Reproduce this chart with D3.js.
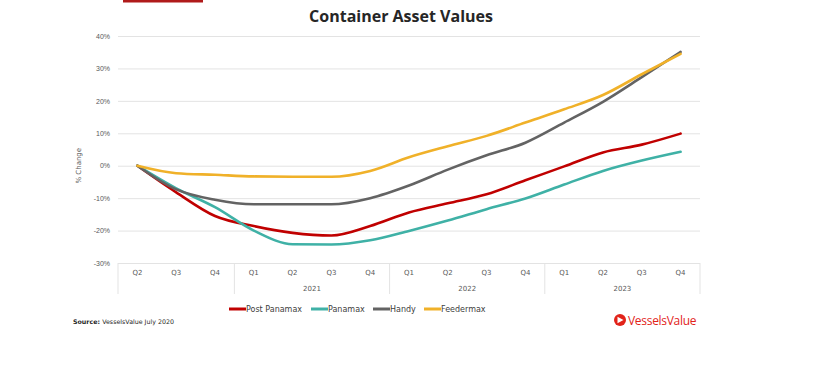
<!DOCTYPE html>
<html>
<head>
<meta charset="utf-8">
<script src="https://cdn.jsdelivr.net/npm/d3@7"></script>
<style>
  body { margin: 0; background: #fff; }
  svg { display: block; font-family: "DejaVu Sans", Verdana, sans-serif; }
  .tick text { fill: #595959; font-size: 7px; }
</style>
</head>
<body>
<div id="chart"></div>
<script>
// quarters along the x axis
const quarters = ['Q2', 'Q3', 'Q4', 'Q1', 'Q2', 'Q3', 'Q4', 'Q1', 'Q2', 'Q3', 'Q4', 'Q1', 'Q2', 'Q3', 'Q4'];
// year groups: label, first quarter index, index after last
const years = [
  { label: '', start: 0, end: 3 },
  { label: '2021', start: 3, end: 7 },
  { label: '2022', start: 7, end: 11 },
  { label: '2023', start: 11, end: 15 }
];
const yTicks = [-30, -20, -10, 0, 10, 20, 30, 40];

// % change series
const postPanamax = [0, -8.2, -15.5, -18.6, -20.7, -21.5, -18.6, -14.4, -11.6, -8.8, -4.5, -0.2, 4.1, 6.5, 9.9];
const panamax = [0, -7, -12.8, -20, -24.2, -24.3, -23, -20.1, -16.9, -13.4, -10.1, -5.8, -1.6, 1.6, 4.3];
const handy = [0, -7.3, -10.5, -11.9, -11.9, -11.9, -10, -6.1, -1.2, 3.2, 7.1, 13.3, 19.7, 27.3, 35.1];
const feedermax = [0, -2.3, -2.8, -3.3, -3.4, -3.4, -1.6, 2.6, 6, 9.2, 13.3, 17.4, 21.8, 28.2, 34.5];

const seriesNames = ['Post Panamax', 'Panamax', 'Handy', 'Feedermax'];
const seriesValues = [postPanamax, panamax, handy, feedermax];
const colors = ['#c00000', '#3fb1a6', '#636363', '#f0b129'];

const W = 817, H = 370;
const margin = { top: 36, right: 117, bottom: 107, left: 118 };
const width = W - margin.left - margin.right;
const height = H - margin.top - margin.bottom;

const svg = d3.select('#chart').append('svg')
  .attr('width', W)
  .attr('height', H);

// cropped red strip at the very top of the original picture
svg.append('rect')
  .attr('x', 123).attr('y', 0)
  .attr('width', 80).attr('height', 2.5)
  .attr('fill', '#b01a1a');

svg.append('text')
  .attr('x', 401).attr('y', 22)
  .attr('text-anchor', 'middle')
  .style('font-family', '"Open Sans", sans-serif')
  .style('font-weight', 'bold')
  .style('font-size', '16px')
  .attr('fill', '#262626')
  .text('Container Asset Values');

const chart = svg.append('g')
  .attr('transform', `translate(${margin.left},${margin.top})`);

const x = d3.scaleBand()
  .domain(d3.range(quarters.length))
  .range([0, width]);

const y = d3.scaleLinear()
  .domain([-30, 40])
  .range([height, 0]);

// y axis with gridlines
const yAxisG = chart.append('g')
  .call(d3.axisLeft(y)
    .tickValues(yTicks)
    .tickSize(-width)
    .tickPadding(8)
    .tickFormat(d => d + '%'));
yAxisG.select('.domain').remove();
yAxisG.selectAll('.tick line').attr('stroke', '#e3e3e3').attr('stroke-width', 1);
yAxisG.selectAll('.tick text').attr('x', -8).attr('text-anchor', 'end');

chart.append('text')
  .attr('transform', `translate(-37,${y(0)}) rotate(-90)`)
  .attr('text-anchor', 'middle')
  .style('font-size', '7px')
  .attr('fill', '#595959')
  .text('% Change');

// category axis: quarter labels, year labels and separators
const xAxisG = chart.append('g')
  .attr('transform', `translate(0,${height})`);

xAxisG.selectAll('.q')
  .data(quarters)
  .join('text')
  .attr('class', 'q')
  .attr('x', (d, i) => x(i) + x.bandwidth() / 2)
  .attr('y', 12)
  .attr('text-anchor', 'middle')
  .style('font-size', '7px')
  .attr('fill', '#595959')
  .text(d => d);

xAxisG.selectAll('.yr')
  .data(years)
  .join('text')
  .attr('class', 'yr')
  .attr('x', d => (x(d.start) + x(d.end - 1) + x.bandwidth()) / 2)
  .attr('y', 28)
  .attr('text-anchor', 'middle')
  .style('font-size', '7px')
  .attr('fill', '#595959')
  .text(d => d.label);

const bounds = years.map(d => d.start).concat([quarters.length]);
xAxisG.selectAll('.sep')
  .data(bounds)
  .join('line')
  .attr('class', 'sep')
  .attr('x1', d => d < quarters.length ? x(d) : width)
  .attr('x2', d => d < quarters.length ? x(d) : width)
  .attr('y1', 0)
  .attr('y2', 31)
  .attr('stroke', '#e3e3e3');

// lines
const line = d3.line()
  .x((d, i) => x(i) + x.bandwidth() / 2)
  .y(d => y(d))
  .curve(d3.curveMonotoneX);

chart.selectAll('.series')
  .data(seriesValues)
  .join('path')
  .attr('class', 'series')
  .attr('fill', 'none')
  .attr('stroke', (d, i) => colors[i])
  .attr('stroke-width', 2.6)
  .attr('stroke-linejoin', 'round')
  .attr('stroke-linecap', 'round')
  .attr('d', line);

// legend
const legendX = [229, 311, 373, 424];
const legend = svg.append('g').attr('transform', 'translate(0,309)');
const items = legend.selectAll('g')
  .data(seriesNames)
  .join('g')
  .attr('transform', (d, i) => `translate(${legendX[i]},0)`);
items.append('line')
  .attr('x1', 0).attr('x2', 17)
  .attr('stroke', (d, i) => colors[i])
  .attr('stroke-width', 3);
items.append('text')
  .attr('x', 17)
  .attr('y', 3)
  .style('font-size', '8px')
  .attr('fill', '#404040')
  .text(d => d);

// source note
const src = svg.append('text')
  .attr('x', 73).attr('y', 324)
  .style('font-size', '6.3px')
  .attr('fill', '#262626');
src.append('tspan').style('font-weight', 'bold').text('Source: ');
src.append('tspan').text('VesselsValue July 2020');

// logo
const logo = svg.append('g').attr('transform', 'translate(620,320)');
logo.append('circle').attr('r', 6).attr('fill', '#e2231a');
logo.append('path')
  .attr('d', 'M-2.5,-3.2 L3.5,0 L-2.5,3.2 Z')
  .attr('fill', '#fff');
svg.append('text')
  .attr('x', 628).attr('y', 324.5)
  .style('font-family', '"Open Sans", sans-serif')
  .style('font-size', '12px')
  .attr('fill', '#e2231a')
  .attr('letter-spacing', '-0.3')
  .text('VesselsValue');
</script>
</body>
</html>
